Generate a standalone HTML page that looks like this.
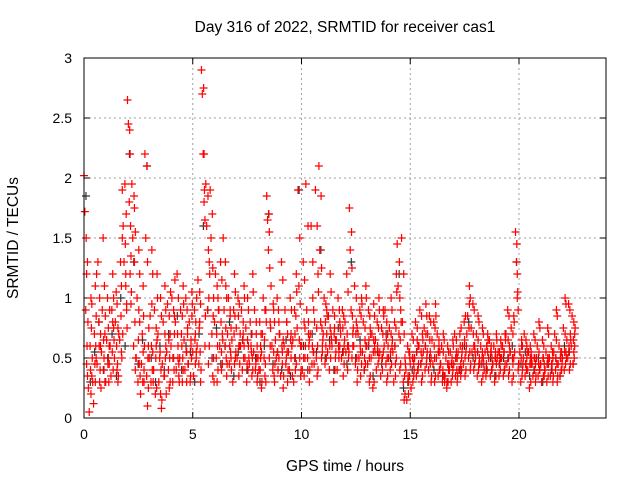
<!DOCTYPE html>
<html><head><meta charset="utf-8"><style>
body{margin:0;background:#fff;width:640px;height:480px;overflow:hidden}
svg{font-family:"Liberation Sans",sans-serif}
</style></head><body>
<svg id="chart" width="640" height="480">
<text x="345" y="32" font-size="15.5" text-anchor="middle">Day 316 of 2022, SRMTID for receiver cas1</text>
<text x="345" y="471" font-size="15.5" text-anchor="middle">GPS time / hours</text>
<text transform="translate(18,238) rotate(-90)" font-size="15.5" text-anchor="middle">SRMTID / TECUs</text>
<g id="grid"></g><g id="ticks"></g><g id="black"></g><g id="red"></g>
<rect x="84" y="58" width="522" height="360" fill="none" stroke="#000" stroke-width="1"/>
</svg>
<script>
const xTicks=[0,5,10,15,20];
const yTicks=[0,0.5,1,1.5,2,2.5,3];
const yTickLabels=["0","0.5","1","1.5","2","2.5","3"];
const slotStep=0.2;
// rows: values at t = index*slotStep (red series)
const redRows=[
[2.02,1.72,0.9,0.45,1.3],[0.25,0.05,0.6,1.0,0.35],[0.3,0.12,0.7,1.1,0.5],[0.45,1.3,0.8,0.3,0.6],[0.55,0.9,1.5,0.4,0.7],
[0.3,0.65,1.0,0.5,0.45],[0.6,0.35,0.9,1.2,0.75],[0.5,0.8,1.05,0.4,0.3],[0.7,0.65,1.3,0.55,1.9],[1.6,1.3,1.95,1.1,0.9],
[2.65,2.45,1.8,1.2,0.95],[1.95,1.5,0.6,1.75,0.4],[0.5,1.0,0.3,1.4,0.8],[0.2,0.45,0.7,1.1,0.3],[2.2,1.5,0.35,0.1,0.6],
[0.5,0.85,0.3,1.4,0.55],[0.4,0.9,0.2,0.6,1.2],[0.7,0.3,0.5,1.0,0.08],[0.45,0.8,0.35,1.1,0.6],[0.55,0.95,0.4,0.25,0.7],
[0.6,1.0,0.3,0.5,0.85],[0.8,0.4,1.2,0.6,0.35],[0.5,0.9,0.7,0.3,1.1],[0.65,0.4,1.0,0.55,0.75],[0.45,0.8,0.3,0.6,1.05],
[0.55,0.35,0.9,0.7,0.5],[0.6,1.15,0.45,0.8,0.3],[2.9,2.7,2.2,1.8,0.6],[1.95,1.6,0.9,0.45,1.3],[1.9,1.5,0.7,0.35,1.0],
[0.8,1.2,0.5,0.3,1.0],[0.9,0.6,1.3,0.4,0.7],[1.5,0.9,0.6,1.1,0.35],[0.7,1.0,0.45,0.85,0.5],[0.65,0.3,0.9,1.2,0.5],
[0.75,0.5,1.0,0.35,0.6],[0.6,0.9,0.4,0.7,1.1],[0.5,0.75,0.3,1.0,0.6],[0.45,0.8,0.6,0.35,1.2],[0.55,0.9,0.4,0.7,0.3],
[0.5,0.4,0.8,0.6,0.25],[0.7,1.0,0.5,0.35,0.9],[1.85,1.65,1.4,0.5,0.8],[1.1,0.6,0.4,0.9,0.3],[0.65,0.5,1.0,0.4,0.8],
[0.7,0.35,1.3,0.55,0.25],[0.6,0.9,0.45,0.8,0.3],[0.55,0.4,1.0,0.7,0.6],[0.65,0.3,0.9,0.5,1.2],[0.75,1.9,1.1,0.5,0.35],
[0.6,0.4,1.3,0.8,0.5],[1.95,0.9,0.5,0.7,0.3],[0.7,1.6,0.45,1.0,0.55],[0.8,1.9,0.5,0.35,1.2],[2.1,1.4,0.8,0.5,0.6],
[0.7,1.0,0.45,0.6,0.9],[0.55,0.85,0.4,1.2,0.7],[0.6,0.9,0.3,0.75,0.5],[0.65,0.4,1.0,0.55,0.8],[0.7,0.5,0.9,0.35,0.6],
[0.8,0.55,1.2,0.4,0.6],[1.75,1.4,0.9,0.5,0.7],[0.6,1.1,0.45,0.8,0.3],[0.7,0.5,0.9,0.35,1.0],[0.55,0.8,0.4,0.65,1.1],
[0.6,0.45,0.9,0.3,0.75],[0.5,0.7,0.25,0.95,0.6],[0.65,0.4,0.8,0.55,1.0],[0.55,0.35,0.75,0.5,0.9],[0.6,0.9,0.45,0.3,0.7],
[0.5,0.75,0.4,1.0,0.6],[0.55,0.3,0.8,0.45,1.2],[1.45,1.1,0.7,0.4,0.9],[1.5,0.8,0.3,0.15,0.5],[0.4,0.15,0.6,0.3,0.55],
[0.45,0.25,0.7,0.5,0.35],[0.5,0.8,0.35,0.65,0.4],[0.6,0.9,0.45,0.3,0.7],[0.55,0.75,0.4,0.95,0.5],[0.7,0.4,0.85,0.55,0.3],
[0.65,0.45,0.8,0.3,0.95],[0.5,0.7,0.35,0.6,0.4],[0.45,0.6,0.3,0.7,0.35],[0.35,0.5,0.25,0.6,0.4],[0.4,0.55,0.3,0.45,0.65],
[0.45,0.7,0.35,0.55,0.3],[0.55,0.4,0.7,0.35,0.5],[0.6,0.45,0.8,0.35,0.55],[0.7,0.85,0.5,1.1,0.4],[0.75,0.55,0.95,0.4,0.6],
[0.5,0.7,0.35,0.85,0.45],[0.45,0.6,0.3,0.75,0.5],[0.4,0.55,0.35,0.6,0.7],[0.5,0.65,0.35,0.55,0.4],[0.45,0.6,0.3,0.5,0.7],
[0.5,0.55,0.35,0.45,0.65],[0.5,0.6,0.35,0.4,0.7],[0.7,0.45,0.9,0.35,0.6],[0.55,0.75,0.3,0.45,0.85],[0.55,1.55,1.3,1.0,0.4],
[0.45,0.55,0.3,0.65,0.4],[0.5,0.7,0.35,0.45,0.6],[0.4,0.55,0.25,0.6,0.45],[0.45,0.35,0.7,0.5,0.3],[0.5,0.6,0.35,0.8,0.4],
[0.45,0.3,0.65,0.5,0.35],[0.4,0.55,0.3,0.75,0.45],[0.5,0.35,0.6,0.45,0.3],[0.55,0.7,0.4,0.9,0.3],[0.45,0.6,0.35,0.5,0.4],
[0.5,0.75,0.4,1.0,0.55],[0.65,0.5,0.95,0.4,0.7],[0.6,0.85,0.45,0.55,0.7]
];
// second set of red rows, at t = index*slotStep + 0.1
const redRows2=[
[1.5,1.2,0.6,0.35,0.8],[0.4,0.2,0.75,0.95,0.5],[0.45,0.3,0.6,0.85,1.2],[0.6,1.0,0.4,0.7,0.25],[0.65,0.5,1.1,0.3,0.85],
[0.45,0.75,0.3,0.6,0.9],[0.55,0.8,0.4,1.0,0.65],[0.6,0.95,0.45,0.75,0.35],[0.85,1.1,0.5,1.5,0.7],[1.45,1.2,1.7,0.95,0.75],
[2.4,2.2,1.6,1.35,1.05],[1.85,1.3,0.8,1.55,0.5],[0.65,0.9,0.45,1.2,0.35],[0.3,0.55,0.85,0.4,0.6],[2.1,1.3,0.5,0.25,0.75],
[0.6,0.95,0.4,1.2,0.3],[0.5,0.75,0.25,0.65,1.0],[0.55,0.2,0.4,0.85,0.15],[0.35,0.7,0.5,0.9,0.2],[0.65,0.85,0.5,0.3,1.05],
[0.5,0.9,0.4,0.7,1.15],[0.7,0.5,1.0,0.45,0.3],[0.6,0.85,0.5,0.4,0.95],[0.55,0.3,0.9,0.7,0.45],[0.35,0.65,0.5,0.85,0.95],
[0.65,0.45,0.8,0.55,1.0],[0.75,1.05,0.55,0.95,0.4],[2.75,2.2,1.9,1.65,0.85],[1.85,1.4,1.0,0.6,1.2],[1.7,1.25,0.85,0.5,0.3],
[0.7,1.1,0.6,0.4,0.9],[0.8,0.55,1.15,0.45,0.65],[1.3,0.75,0.5,1.0,0.45],[0.6,0.9,0.55,0.75,0.4],[0.7,0.45,0.85,1.05,0.55],
[0.85,0.6,0.95,0.45,0.7],[0.65,0.8,0.5,0.6,1.0],[0.45,0.65,0.4,0.9,0.5],[0.55,0.7,0.5,0.4,1.05],[0.45,0.8,0.5,0.6,0.35],
[0.4,0.5,0.7,0.55,0.3],[0.65,0.9,0.45,0.3,0.8],[1.7,1.55,1.25,0.6,0.75],[0.95,0.55,0.35,0.8,0.45],[0.55,0.4,0.9,0.5,0.7],
[0.6,0.45,1.15,0.65,0.35],[0.5,0.8,0.55,0.7,0.4],[0.65,0.5,0.9,0.6,0.35],[0.7,0.4,0.85,0.45,1.05],[0.65,1.5,0.95,0.6,0.4],
[0.5,0.35,1.15,0.75,0.6],[1.6,0.8,0.6,0.65,0.4],[0.6,1.3,0.55,0.9,0.45],[0.75,1.6,0.6,0.4,1.05],[1.85,1.25,0.75,0.55,0.65],
[0.8,0.95,0.5,0.7,0.85],[0.6,0.75,0.5,1.05,0.65],[0.7,0.85,0.4,0.65,0.55],[0.6,0.5,0.9,0.6,0.75],[0.75,0.55,0.85,0.45,0.65],
[0.7,0.6,1.05,0.5,0.55],[1.55,1.25,0.85,0.6,0.75],[0.7,1.0,0.5,0.75,0.4],[0.6,0.55,0.85,0.45,0.95],[0.5,0.75,0.45,0.6,1.0],
[0.65,0.5,0.85,0.35,0.7],[0.55,0.65,0.3,0.85,0.55],[0.6,0.45,0.75,0.5,0.9],[0.5,0.4,0.7,0.55,0.85],[0.65,0.8,0.5,0.35,0.6],
[0.55,0.7,0.45,0.9,0.65],[0.6,0.35,0.75,0.5,1.05],[1.3,1.0,0.65,0.45,0.8],[1.2,0.7,0.35,0.2,0.45],[0.35,0.2,0.55,0.35,0.5],
[0.5,0.3,0.65,0.45,0.4],[0.55,0.75,0.4,0.6,0.45],[0.55,0.85,0.5,0.35,0.65],[0.6,0.7,0.45,0.85,0.55],[0.65,0.45,0.8,0.5,0.35],
[0.6,0.5,0.75,0.35,0.85],[0.55,0.65,0.4,0.55,0.45],[0.4,0.55,0.35,0.65,0.3],[0.3,0.45,0.3,0.55,0.45],[0.45,0.5,0.35,0.4,0.6],
[0.5,0.65,0.4,0.5,0.35],[0.6,0.45,0.75,0.4,0.55],[0.65,0.5,0.85,0.4,0.6],[0.75,0.95,0.55,1.0,0.45],[0.7,0.6,0.9,0.45,0.55],
[0.55,0.65,0.4,0.8,0.5],[0.5,0.55,0.35,0.7,0.45],[0.45,0.6,0.4,0.55,0.65],[0.55,0.6,0.4,0.5,0.45],[0.5,0.55,0.35,0.45,0.65],
[0.55,0.5,0.4,0.5,0.6],[0.55,0.55,0.4,0.45,0.65],[0.65,0.5,0.85,0.4,0.55],[0.5,0.7,0.35,0.5,0.8],[1.45,1.2,1.05,0.9,0.45],
[0.5,0.6,0.35,0.6,0.45],[0.45,0.65,0.4,0.5,0.55],[0.45,0.5,0.3,0.55,0.5],[0.5,0.4,0.65,0.45,0.35],[0.45,0.55,0.4,0.75,0.45],
[0.5,0.35,0.6,0.45,0.4],[0.45,0.5,0.35,0.7,0.5],[0.45,0.4,0.55,0.5,0.35],[0.5,0.65,0.45,0.85,0.35],[0.5,0.55,0.4,0.55,0.45],
[0.55,0.7,0.45,0.95,0.5],[0.6,0.55,0.9,0.45,0.65],[0.65,0.8,0.5,0.6,0.75]
];
// black series: one value per slot
const blackVals=[1.85,0.3,0.55,0.8,0.4,0.5,0.7,0.35,1.0,0.6,2.2,1.3,0.45,0.65,2.1,0.5,0.3,0.6,0.4,0.7,
0.5,0.85,0.4,0.6,0.55,0.3,0.7,1.6,0.9,0.5,0.75,0.45,0.6,0.8,0.35,0.55,0.65,0.4,0.7,0.5,
0.3,0.6,1.7,0.45,0.55,0.4,0.65,0.35,0.5,1.9,0.6,0.4,0.7,0.55,1.4,0.5,0.65,0.4,0.75,0.55,
0.45,1.3,0.5,0.65,0.4,0.6,0.35,0.55,0.45,0.7,0.5,0.6,1.2,0.25,0.3,0.4,0.55,0.45,0.6,0.5,
0.4,0.55,0.35,0.3,0.45,0.5,0.4,0.6,0.8,0.5,0.55,0.45,0.4,0.5,0.35,0.45,0.5,0.5,0.6,1.3,
0.45,0.55,0.35,0.4,0.5,0.3,0.45,0.4,0.5,0.35,0.6,0.55,0.45];
const X0=84,X1=606,Y0=418,Y1=58,XMAX=24,YMAX=3;
const sx=v=>X0+v/XMAX*(X1-X0), sy=v=>Y0-v/YMAX*(Y0-Y1);
const NS="http://www.w3.org/2000/svg";
function mk(tag,attrs,parent){const e=document.createElementNS(NS,tag);for(const k in attrs)e.setAttribute(k,attrs[k]);parent.appendChild(e);return e;}
const grid=document.getElementById('grid'),ticks=document.getElementById('ticks');
xTicks.forEach(t=>{const x=sx(t);
 if(t>0){const g=mk('line',{x1:x,x2:x,y1:Y1,y2:Y0,stroke:'#a0a0a0','stroke-dasharray':'2,3'},grid);
 
 }
 mk('line',{x1:x,x2:x,y1:Y0,y2:Y0-6,stroke:'#000'},ticks);mk('line',{x1:x,x2:x,y1:Y1,y2:Y1+6,stroke:'#000'},ticks);
 const l=mk('text',{x:x,y:Y0+21,'font-size':14,'text-anchor':'middle'},ticks);l.textContent=t;
 
 });
yTicks.forEach((t,i)=>{const y=sy(t);
 if(t>0&&t<3){const g=mk('line',{x1:X0,x2:X1,y1:y,y2:y,stroke:'#a0a0a0','stroke-dasharray':'2,3'},grid);
 
 }
 mk('line',{x1:X0,x2:X0+6,y1:y,y2:y,stroke:'#000'},ticks);mk('line',{x1:X1,x2:X1-6,y1:y,y2:y,stroke:'#000'},ticks);
 const l=mk('text',{x:X0-12,y:y+5,'font-size':14,'text-anchor':'end'},ticks);l.textContent=yTickLabels[i];
 
 });
function plus(g,t,v,col){const x=sx(t),y=sy(v);
 return mk('path',{d:`M${x-4},${y}h8M${x},${y-4}v8`,stroke:col,'stroke-width':1.2,fill:'none'},g);}
const gb=document.getElementById('black');


blackVals.forEach((v,i)=>{const p=plus(gb,i*slotStep+0.09,v,'#333');
 
 });
const gr=document.getElementById('red');


redRows.forEach((row,i)=>row.forEach((v,j)=>{const p=plus(gr,i*slotStep+j*0.04,v,'#ff0000');
 
 }));
redRows2.forEach((row,i)=>row.forEach((v,j)=>{const p=plus(gr,i*slotStep+0.1+j*0.02,v,'#ff0000');
 
 }));
</script>
</body></html>
